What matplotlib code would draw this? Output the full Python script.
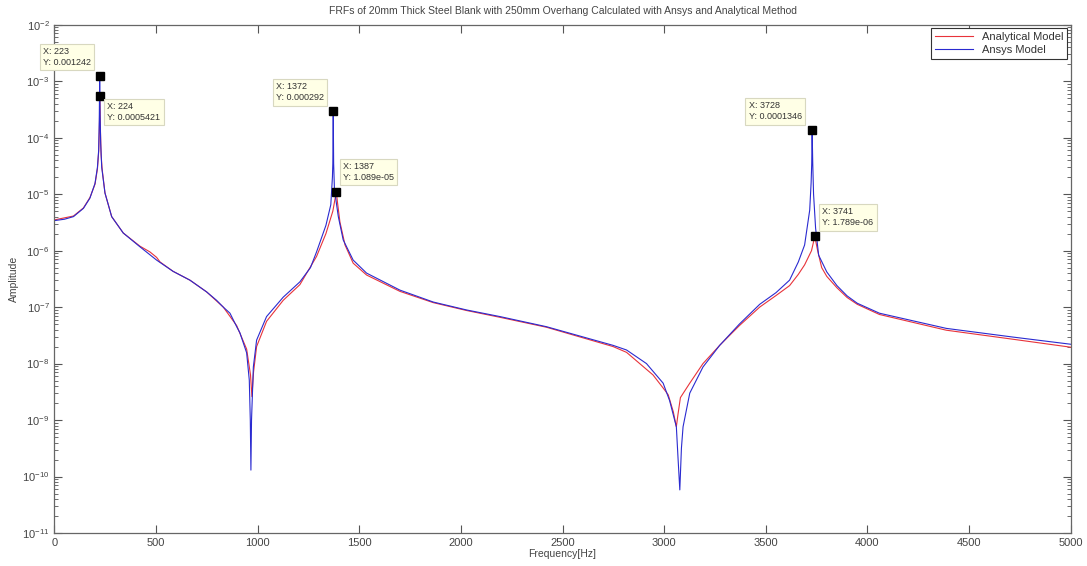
import numpy as np
import matplotlib
matplotlib.use("Agg")
import matplotlib.pyplot as plt
from matplotlib.ticker import LogLocator, MultipleLocator, NullFormatter

plt.rcParams['font.family'] = ['Liberation Sans', 'DejaVu Sans']

# Ansys model (blue) - frequency [Hz] and amplitude
ansys_freq = [0, 50, 94, 143, 175, 200, 212, 218, 221, 223, 225, 228, 233, 249, 282,
              339, 421, 503, 584, 667, 749, 798, 831, 864, 897, 913, 946, 959, 964,
              967, 970, 979, 995, 1044, 1126, 1208, 1260, 1290, 1336, 1360, 1368,
              1370, 1372, 1374, 1378, 1397, 1421, 1470, 1536, 1700, 1864, 2028, 2192,
              2421, 2749, 2815, 2913, 2995, 3027, 3060, 3068, 3077, 3085, 3093, 3126,
              3191, 3273, 3370, 3470, 3550, 3617, 3660, 3691, 3716, 3723, 3726, 3728,
              3731, 3735, 3745, 3760, 3800, 3850, 3900, 3950, 4059, 4388, 4715, 5000]
ansys_amp = [3.4e-6, 3.6e-6, 4.0e-6, 5.6e-6, 8.5e-6, 1.55e-5, 3.0e-5, 6.0e-5, 2.0e-4,
             1.242e-3, 2.5e-4, 7.9e-5, 3.0e-5, 1.05e-5, 4.0e-6,
             2.05e-6, 1.17e-6, 6.8e-7, 4.3e-7, 3.0e-7, 1.86e-7, 1.32e-7, 1.0e-7, 7.8e-8,
             4.5e-8, 3.5e-8, 1.55e-8, 5.1e-9, 1.0e-9,
             1.3e-10, 1.0e-9, 8.7e-9, 2.6e-8, 6.8e-8, 1.5e-7, 2.8e-7, 5.0e-7, 9.5e-7,
             2.8e-6, 6.5e-6, 2.0e-5,
             3.5e-5, 2.92e-4, 3.5e-5, 1.2e-5, 4.0e-6, 1.55e-6, 6.8e-7, 4.0e-7, 2.0e-7,
             1.23e-7, 8.9e-8, 6.8e-8,
             4.5e-8, 2.1e-8, 1.74e-8, 1.0e-8, 4.5e-9, 2.2e-9, 7.6e-10, 2.2e-10, 5.8e-11,
             3.2e-10, 7.6e-10, 3.0e-9,
             8.7e-9, 2.1e-8, 5.0e-8, 1.12e-7, 1.8e-7, 3.0e-7, 6.3e-7, 1.26e-6, 5.2e-6,
             1.6e-5, 3.5e-5, 1.346e-4,
             3.5e-5, 1.0e-5, 2.5e-6, 8.3e-7, 4.2e-7, 2.4e-7, 1.58e-7, 1.17e-7, 7.8e-8,
             4.2e-8, 2.95e-8, 2.2e-8]

# Analytical model (red)
anal_freq = [0, 94, 143, 175, 200, 212, 218, 221, 224, 227, 230, 235, 249, 282, 339,
             421, 470, 503, 520, 584, 667, 749, 831, 897, 946, 965, 972, 980, 995,
             1044, 1126, 1208, 1290, 1336, 1370, 1380, 1387, 1393, 1405, 1430, 1470,
             1536, 1700, 1864, 2028, 2192, 2421, 2749, 2815, 2945, 3000, 3020, 3045,
             3060, 3068, 3080, 3126, 3191, 3273, 3370, 3470, 3550, 3617, 3660, 3691,
             3725, 3741, 3755, 3775, 3800, 3850, 3900, 3950, 4059, 4388, 4715, 5000]
anal_amp = [3.5e-6, 4.1e-6, 5.7e-6, 8.7e-6, 1.5e-5, 2.8e-5, 5.6e-5, 1.26e-4, 5.421e-4,
            1.26e-4, 5.0e-5, 2.8e-5, 1.05e-5, 4.0e-6, 2.05e-6,
            1.2e-6, 9.5e-7, 7.6e-7, 6.3e-7, 4.3e-7, 3.0e-7, 1.86e-7, 1.0e-7, 4.7e-8,
            1.8e-8, 6.3e-9, 2.6e-9, 7.1e-9, 2.0e-8,
            5.6e-8, 1.32e-7, 2.5e-7, 7.9e-7, 2.0e-6, 5.0e-6, 7.9e-6, 1.089e-5, 7.1e-6,
            3.2e-6, 1.26e-6, 6.0e-7,
            3.7e-7, 1.9e-7, 1.2e-7, 8.7e-8, 6.6e-8, 4.4e-8, 2.0e-8, 1.58e-8, 6.3e-9,
            3.5e-9, 2.8e-9, 1.4e-9,
            7.6e-10, 1.26e-9, 2.5e-9, 4.5e-9, 1.0e-8, 2.1e-8, 4.7e-8, 1.0e-7, 1.6e-7,
            2.4e-7, 3.8e-7, 5.6e-7,
            1.0e-6, 1.789e-6, 1.0e-6, 5.0e-7, 3.5e-7, 2.2e-7, 1.48e-7, 1.12e-7, 7.4e-8,
            3.9e-8, 2.7e-8, 1.95e-8]

# data tips: x, y, label offset in pixels
tip_x = [223, 224, 1372, 1387, 3728, 3741]
tip_y = [0.001242, 0.0005421, 0.000292, 1.089e-05, 0.0001346, 1.789e-06]
tip_text = ["0.001242", "0.0005421", "0.000292", "1.089e-05", "0.0001346", "1.789e-06"]
tip_off = [(-33, 19), (34, -16), (-33, 19), (32, 20), (-37, 19), (33, 19)]

fig = plt.figure(figsize=(10.87, 5.66), dpi=100, facecolor='w')
ax = fig.add_axes([0.05, 0.0583, 0.935, 0.898])

ax.semilogy(anal_freq, anal_amp, color='#e8333a', lw=0.8, label='Analytical Model')
ax.semilogy(ansys_freq, ansys_amp, color='#2a2ad0', lw=0.8, label='Ansys Model')

ax.set_xlim(0, 5000)
ax.set_ylim(1e-11, 1e-2)
ax.xaxis.set_major_locator(MultipleLocator(500))
ax.yaxis.set_major_locator(LogLocator(base=10, numticks=20))
ax.yaxis.set_minor_locator(LogLocator(base=10, subs=np.arange(2, 10), numticks=20))
ax.yaxis.set_minor_formatter(NullFormatter())

ax.tick_params(which='both', direction='in', top=True, right=True,
               colors='#555555', labelsize=8, labelcolor='#444444')
ax.tick_params(which='major', length=6, width=0.8)
ax.tick_params(which='minor', length=3, width=0.6)
for s in ax.spines.values():
    s.set_color('#666666')
    s.set_linewidth(0.9)

ax.set_xlabel('Frequency[Hz]', fontsize=7.5, color='#444444', labelpad=1)
ax.set_ylabel('Amplitude', fontsize=7.5, color='#444444', labelpad=2)
ax.set_title('FRFs of 20mm Thick Steel Blank with 250mm Overhang Calculated with Ansys and Analytical Method',
             fontsize=7.5, color='#444444', pad=8)

# data tip markers and boxes
for x, y, t, off in zip(tip_x, tip_y, tip_text, tip_off):
    ax.plot(x, y, 's', color='black', ms=6, zorder=5)
    ax.annotate("X: %d\nY: %s" % (x, t), xy=(x, y), xytext=off,
                textcoords='offset pixels', ha='center', va='center',
                multialignment='left',
                fontsize=6.5, color='#333333', linespacing=1.3,
                bbox=dict(boxstyle='square,pad=0.35', fc='#ffffe6', ec='#d8d8c0', lw=0.8),
                zorder=6)

leg = ax.legend(loc='upper right', fontsize=8, fancybox=False, framealpha=1,
                edgecolor='#333333', borderaxespad=0.3, handlelength=3.4,
                borderpad=0.35, labelspacing=0.3)
leg.get_frame().set_linewidth(0.8)
for txt in leg.get_texts():
    txt.set_color('#333333')

fig.savefig('out.png', dpi=100)
